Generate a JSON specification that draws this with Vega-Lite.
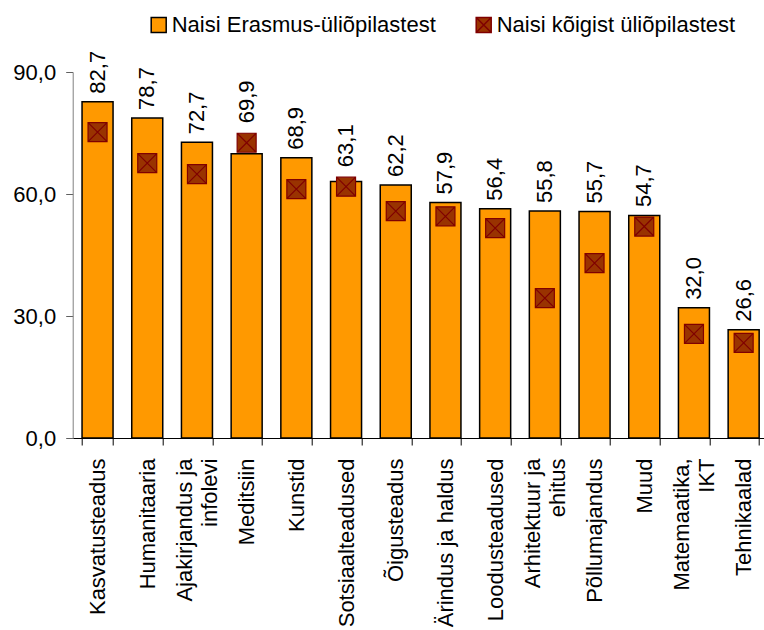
{
  "$schema": "https://vega.github.io/schema/vega-lite/v6.json",
  "width": 691.3,
  "height": 366,
  "autosize": {"type": "none"},
  "padding": {"left": 72.7, "top": 72, "right": 0, "bottom": 192},
  "config": {
    "view": {"stroke": null},
    "font": "Liberation Sans",
    "locale": {"number": {"decimal": ",", "thousands": " ", "grouping": [3], "currency": ["", " €"]}}
  },
  "data": {
    "values": [
      {"cat": "Kasvatusteadus", "series": "Naisi Erasmus-üliõpilastest", "value": 82.7},
      {"cat": "Humanitaaria", "series": "Naisi Erasmus-üliõpilastest", "value": 78.7},
      {"cat": "Ajakirjandus ja\ninfolevi", "series": "Naisi Erasmus-üliõpilastest", "value": 72.7},
      {"cat": "Meditsiin", "series": "Naisi Erasmus-üliõpilastest", "value": 69.9},
      {"cat": "Kunstid", "series": "Naisi Erasmus-üliõpilastest", "value": 68.9},
      {"cat": "Sotsiaalteadused", "series": "Naisi Erasmus-üliõpilastest", "value": 63.1},
      {"cat": "Õigusteadus", "series": "Naisi Erasmus-üliõpilastest", "value": 62.2},
      {"cat": "Ärindus ja haldus", "series": "Naisi Erasmus-üliõpilastest", "value": 57.9},
      {"cat": "Loodusteadused", "series": "Naisi Erasmus-üliõpilastest", "value": 56.4},
      {"cat": "Arhitektuur ja\nehitus", "series": "Naisi Erasmus-üliõpilastest", "value": 55.8},
      {"cat": "Põllumajandus", "series": "Naisi Erasmus-üliõpilastest", "value": 55.7},
      {"cat": "Muud", "series": "Naisi Erasmus-üliõpilastest", "value": 54.7},
      {"cat": "Matemaatika,\nIKT", "series": "Naisi Erasmus-üliõpilastest", "value": 32.0},
      {"cat": "Tehnikaalad", "series": "Naisi Erasmus-üliõpilastest", "value": 26.6},
      {"cat": "Kasvatusteadus", "series": "Naisi  kõigist üliõpilastest", "value": 75.2},
      {"cat": "Humanitaaria", "series": "Naisi  kõigist üliõpilastest", "value": 67.6},
      {"cat": "Ajakirjandus ja\ninfolevi", "series": "Naisi  kõigist üliõpilastest", "value": 64.9},
      {"cat": "Meditsiin", "series": "Naisi  kõigist üliõpilastest", "value": 72.6},
      {"cat": "Kunstid", "series": "Naisi  kõigist üliõpilastest", "value": 61.2},
      {"cat": "Sotsiaalteadused", "series": "Naisi  kõigist üliõpilastest", "value": 61.8},
      {"cat": "Õigusteadus", "series": "Naisi  kõigist üliõpilastest", "value": 55.8},
      {"cat": "Ärindus ja haldus", "series": "Naisi  kõigist üliõpilastest", "value": 54.5},
      {"cat": "Loodusteadused", "series": "Naisi  kõigist üliõpilastest", "value": 51.6},
      {"cat": "Arhitektuur ja\nehitus", "series": "Naisi  kõigist üliõpilastest", "value": 34.4},
      {"cat": "Põllumajandus", "series": "Naisi  kõigist üliõpilastest", "value": 43.0},
      {"cat": "Muud", "series": "Naisi  kõigist üliõpilastest", "value": 52.0},
      {"cat": "Matemaatika,\nIKT", "series": "Naisi  kõigist üliõpilastest", "value": 25.6},
      {"cat": "Tehnikaalad", "series": "Naisi  kõigist üliõpilastest", "value": 23.4}
    ]
  },
  "encoding": {
    "x": {
      "field": "cat", "type": "nominal", "sort": null,
      "scale": {"range": [0, 695.8], "paddingInner": 0.376, "paddingOuter": 0.188},
      "axis": {
        "title": null, "labelAngle": 270, "labelFontSize": 22, "labelColor": "#000000",
        "labelExpr": "split(datum.label, '\\n')", "labelLineHeight": 25,
        "labelOffset": {"condition": {"test": "indexof(datum.label, '\\n') >= 0", "value": -12}, "value": 0},
        "tickBand": "extent", "tickSize": 7, "tickColor": "#000000", "domainColor": "#000000",
        "labelPadding": 13, "labelLimit": 400, "labelOverlap": false
      }
    },
    "y": {
      "field": "value", "type": "quantitative",
      "scale": {"domain": [0, 90], "nice": false},
      "axis": {
        "title": null, "values": [0, 30, 60, 90], "format": ".1f", "labelFontSize": 22,
        "labelColor": "#000000", "tickSize": 7, "labelPadding": 10, "grid": false,
        "domainColor": "#808080", "tickColor": "#606060"
      }
    }
  },
  "layer": [
    {
      "transform": [{"filter": "datum.series === 'Naisi Erasmus-üliõpilastest'"}],
      "mark": {"type": "bar", "strokeWidth": 1.5},
      "encoding": {
        "fill": {
          "field": "series", "type": "nominal",
          "scale": {"domain": ["Naisi Erasmus-üliõpilastest", "Naisi  kõigist üliõpilastest"], "range": ["#FF9900", "#993300"]},
          "legend": {"orient": "none", "legendX": 75, "legendY": -58, "direction": "horizontal", "columns": 2, "title": null, "labelFontSize": 22, "labelColor": "#000000", "symbolSize": 225, "symbolStrokeWidth": 1.5, "labelOffset": 2, "columnPadding": 36, "labelLimit": 400}
        },
        "stroke": {
          "field": "series", "type": "nominal",
          "scale": {"domain": ["Naisi Erasmus-üliõpilastest", "Naisi  kõigist üliõpilastest"], "range": ["#000000", "#7F0000"]},
          "legend": {"orient": "none", "legendX": 75, "legendY": -58, "direction": "horizontal", "columns": 2, "title": null, "labelFontSize": 22, "labelColor": "#000000", "symbolSize": 225, "symbolStrokeWidth": 1.5, "labelOffset": 2, "columnPadding": 36, "labelLimit": 400}
        }
      }
    },
    {
      "transform": [{"filter": "datum.series === 'Naisi  kõigist üliõpilastest'"}],
      "mark": {"type": "point", "filled": true, "size": 361, "strokeWidth": 1.2, "opacity": 1},
      "encoding": {
        "fill": {"field": "series", "type": "nominal"},
        "stroke": {"field": "series", "type": "nominal"},
        "shape": {
          "field": "series", "type": "nominal",
          "scale": {"domain": ["Naisi Erasmus-üliõpilastest", "Naisi  kõigist üliõpilastest"], "range": ["square", "M-1,-1H1V1H-1Z M-1,-1L1,1 M-1,1L1,-1"]},
          "legend": {"orient": "none", "legendX": 75, "legendY": -58, "direction": "horizontal", "columns": 2, "title": null, "labelFontSize": 22, "labelColor": "#000000", "symbolSize": 225, "symbolStrokeWidth": 1.5, "labelOffset": 2, "columnPadding": 36, "labelLimit": 400}
        }
      }
    },
    {
      "transform": [
        {"joinaggregate": [{"op": "sum", "field": "value", "as": "total"}], "groupby": ["cat"]},
        {"filter": "datum.series === 'Naisi Erasmus-üliõpilastest'"}
      ],
      "mark": {"type": "text", "angle": 270, "align": "left", "baseline": "middle", "fontSize": 22, "color": "#000000",
        "dx": {"expr": "max(8, (datum.total - 2 * datum.value) * 4.067 + 19.5)"}},
      "encoding": {
        "text": {"field": "value", "type": "quantitative", "format": ".1f"}
      }
    }
  ]
}
